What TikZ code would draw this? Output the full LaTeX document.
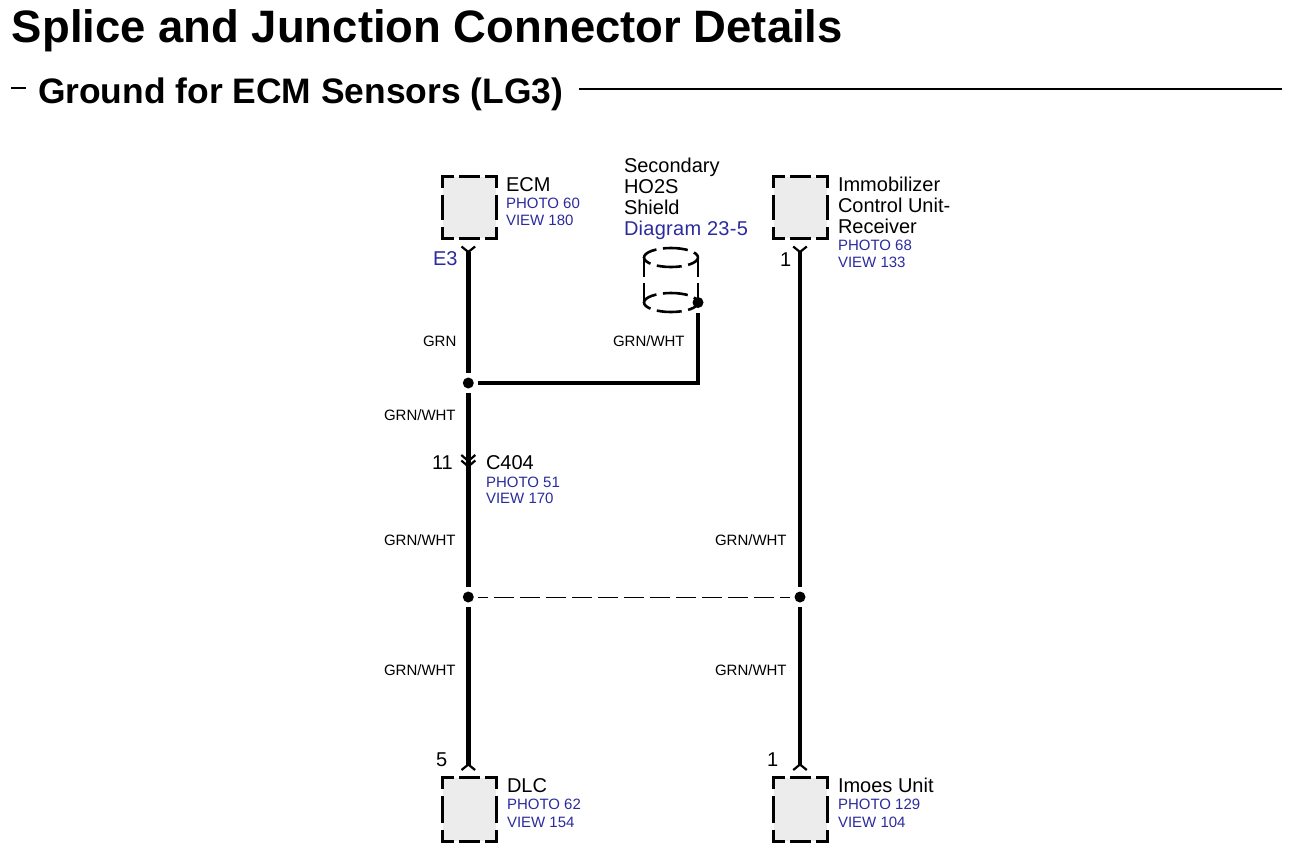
\documentclass[tikz,border=0pt]{standalone}
\usepackage{fontspec}
\setmainfont{Liberation Sans}
\definecolor{refblue}{HTML}{2B2B9E}
\definecolor{boxgray}{HTML}{ECECEC}
\newcommand{\fsz}[1]{\fontsize{#1}{#1}\selectfont}
\tikzset{
  txt/.style={anchor=base west,inner sep=0pt,outer sep=0pt,font=\fsz{20}},
  ref/.style={anchor=base west,inner sep=0pt,outer sep=0pt,font=\fsz{15},text=refblue},
  wirelabel/.style={anchor=base west,inner sep=0pt,outer sep=0pt,font=\fsz{15}},
  wire/.style={line width=4.6pt,line cap=butt,line join=miter},
  forkline/.style={line width=2.2pt},
  splice/.style={circle,fill=black,inner sep=0pt,outer sep=4.5pt,minimum size=11pt},
  conn/.style={rectangle,fill=boxgray,inner sep=0pt,outer sep=0pt},
  frameline/.style={line width=3pt,line cap=butt,line join=miter},
  shieldline/.style={line width=2.6pt},
}
\newcommand{\ConnBox}[5]{% name, left, top, right, bottom
  \node[conn,minimum width={#4-#2},minimum height={#5-#3}] (#1) at ({(#2+#4)/2},{(#3+#5)/2}) {};
  \draw[frameline] ([yshift=-11pt]#1.north west) -- (#1.north west) -- ([xshift=11pt]#1.north west);
  \draw[frameline] ([xshift=-11pt]#1.north east) -- (#1.north east) -- ([yshift=-11pt]#1.north east);
  \draw[frameline] ([yshift=11pt]#1.south west) -- (#1.south west) -- ([xshift=11pt]#1.south west);
  \draw[frameline] ([xshift=-11pt]#1.south east) -- (#1.south east) -- ([yshift=11pt]#1.south east);
  \draw[frameline] ([xshift=16.5pt]#1.north west) -- ([xshift=-16.5pt]#1.north east);
  \draw[frameline] ([xshift=16.5pt]#1.south west) -- ([xshift=-16.5pt]#1.south east);
  \draw[frameline] ([yshift=-18pt]#1.north west) -- ([yshift=18pt]#1.south west);
  \draw[frameline] ([yshift=-18pt]#1.north east) -- ([yshift=18pt]#1.south east);
}
\newcommand{\ForkDown}[1]{\draw[forkline] ([shift={(-6.8pt,5.5pt)}]#1) -- (#1) -- ([shift={(6.8pt,5.5pt)}]#1);}
\newcommand{\ForkUp}[1]{\draw[forkline] ([shift={(-6.8pt,-5.5pt)}]#1) -- (#1) -- ([shift={(6.8pt,-5.5pt)}]#1);}
\begin{document}
\begin{tikzpicture}[x=1pt,y=-1pt]
\useasboundingbox (0,0) rectangle (1294,854);
% headings
\node[txt,font=\fsz{45.45}\bfseries] (title) at (12,42) {Splice and Junction Connector Details};
\node[txt,font=\fsz{35.4}\bfseries] (subtitle) at (38,103) {Ground for ECM Sensors (LG3)};
\coordinate (dashA) at (11,88); \coordinate (dashB) at (26,88);
\coordinate (ruleA) at (579,89); \coordinate (ruleB) at (1282,89);
\draw[line width=2pt] (dashA) -- (dashB);
\draw[line width=2.6pt] (ruleA) -- (ruleB);
% boxes
\ConnBox{ecm}{442.7}{176.5}{496}{238}
\ConnBox{imm}{773.7}{176.5}{827}{238}
\ConnBox{dlc}{442.7}{777.5}{496}{841}
\ConnBox{imo}{773.7}{777.5}{827}{841}
% splices
\node[splice] (s1) at (468.3,383) {};
\node[splice] (s2) at (468.3,597) {};
\node[splice] (s3) at (800,597) {};
\node[splice] (sd) at (698,302.5) {};
% pins
\coordinate (pe) at (468.3,252); \coordinate (pi) at (800,252);
\coordinate (pd) at (468.3,764.5); \coordinate (pm) at (800,764.5);
\coordinate (cA) at (468.3,461); \coordinate (cB) at (468.3,466.5);
% wires
\draw[wire] (pe) -- (s1);
\draw[wire] (s1) -- (s2);
\draw[wire] (s2) -- (pd);
\draw[wire] (pi) -- (s3);
\draw[wire] (s3) -- (pm);
\draw[wire] (s1) -| (sd);
\draw[line width=0.9pt,dash pattern=on 20pt off 6pt,dash phase=10pt] (s2) -- (s3);
\ForkDown{pe}\ForkDown{pi}\ForkUp{pd}\ForkUp{pm}
\draw[forkline] ([shift={(-7pt,6pt)}]cA) -- (cA) -- ([shift={(7pt,6pt)}]cA);
\draw[forkline] ([shift={(-7pt,6pt)}]cB) -- (cB) -- ([shift={(7pt,6pt)}]cB);
% shield
\draw[shieldline,dash pattern=on 25pt off 6.6pt,dash phase=12pt] (671,257.5) ellipse [x radius=27,y radius=9.5];
\draw[shieldline,dash pattern=on 25pt off 6.6pt,dash phase=12pt] (671,302.5) ellipse [x radius=27,y radius=9.5];
\coordinate (cylL1) at (644,258); \coordinate (cylL2) at (644,277);
\coordinate (cylL3) at (644,283); \coordinate (cylL4) at (644,302);
\coordinate (cylR1) at (698,258); \coordinate (cylR2) at (698,277);
\coordinate (cylR3) at (698,283); \coordinate (cylR4) at (698,302);
\draw[shieldline] (cylL1) -- (cylL2) (cylL3) -- (cylL4) (cylR1) -- (cylR2) (cylR3) -- (cylR4);
% text
\node[txt] (tECM) at (506,191) {ECM};
\node[ref] (rE1) at (506,208) {PHOTO 60};
\node[ref] (rE2) at (506,225) {VIEW 180};
\node[txt,text=refblue] (tE3) at (433,265) {E3};
\node[txt] (tS1) at (624,172) {Secondary};
\node[txt] (tS2) at (624,193) {HO2S};
\node[txt] (tS3) at (624,214) {Shield};
\node[txt,text=refblue] (tS4) at (624,235) {\addfontfeature{LetterSpace=1.4}Diagram 23-5};
\node[txt] (tI1) at (838,191) {Immobilizer};
\node[txt] (tI2) at (838,212) {Control Unit-};
\node[txt] (tI3) at (838,233) {Receiver};
\node[ref] (rI1) at (838,250) {PHOTO 68};
\node[ref] (rI2) at (838,267) {VIEW 133};
\node[txt] (tI4) at (780,266) {1};
\node[wirelabel] (w1) at (423,346) {GRN};
\node[wirelabel] (w2) at (613,346) {GRN/WHT};
\node[wirelabel] (w3) at (384,420) {GRN/WHT};
\node[wirelabel] (w4) at (384,545) {GRN/WHT};
\node[wirelabel] (w5) at (384,675) {GRN/WHT};
\node[wirelabel] (w6) at (715,545) {GRN/WHT};
\node[wirelabel] (w7) at (715,675) {GRN/WHT};
\node[txt] (t11) at (432,469) {11};
\node[txt] (tC) at (486,469) {C404};
\node[ref] (rC1) at (486,487) {PHOTO 51};
\node[ref] (rC2) at (486,503) {VIEW 170};
\node[txt] (t5) at (436,766) {5};
\node[txt] (t1b) at (767,766) {1};
\node[txt] (tD) at (507,792) {DLC};
\node[ref] (rD1) at (507,809) {PHOTO 62};
\node[ref] (rD2) at (507,827) {VIEW 154};
\node[txt] (tM) at (838,792) {Imoes Unit};
\node[ref] (rM1) at (838,809) {PHOTO 129};
\node[ref] (rM2) at (838,827) {VIEW 104};
\end{tikzpicture}
\end{document}
